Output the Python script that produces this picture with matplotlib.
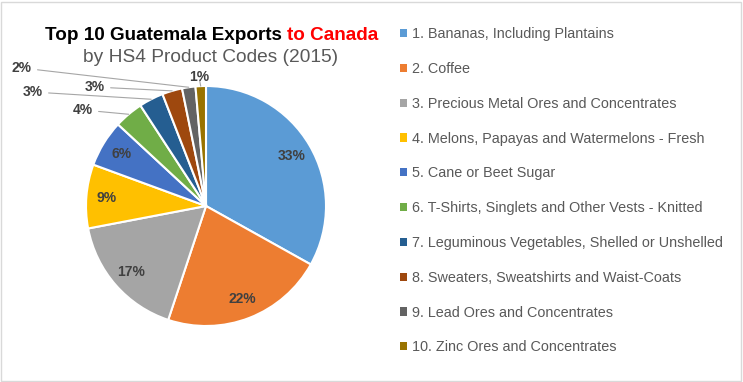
import numpy as np
import matplotlib.pyplot as plt
from matplotlib.patches import Patch, Rectangle

plt.rcParams['font.family'] = ['Liberation Sans', 'DejaVu Sans']

# data
products = ['1. Bananas, Including Plantains', '2. Coffee',
            '3. Precious Metal Ores and Concentrates',
            '4. Melons, Papayas and Watermelons - Fresh',
            '5. Cane or Beet Sugar',
            '6. T-Shirts, Singlets and Other Vests - Knitted',
            '7. Leguminous Vegetables, Shelled or Unshelled',
            '8. Sweaters, Sweatshirts and Waist-Coats',
            '9. Lead Ores and Concentrates',
            '10. Zinc Ores and Concentrates']
shares = [33.1, 22.0, 16.9, 8.6, 6.3, 3.9, 3.3, 2.7, 1.8, 1.4]
colors = ['#5B9BD5', '#ED7D31', '#A5A5A5', '#FFC000', '#4472C4',
          '#70AD47', '#255E91', '#9E480E', '#636363', '#997300']

# where the small-slice labels sit (pixel coords, y from top)
outside_pos = {5: (83, 110), 6: (33, 92), 7: (95, 87), 8: (22, 68), 9: (199, 77)}

W, H = 743, 382
fig = plt.figure(figsize=(W / 100, H / 100), dpi=100)
ax = fig.add_axes([0, 0, 1, 1])

cx, cy, r = 206, H - 206, 120
wedges, _ = ax.pie(shares, colors=colors, startangle=90, counterclock=False,
                   center=(cx, cy), radius=r, frame=True,
                   wedgeprops=dict(edgecolor='white', linewidth=1.5))
ax.set_xlim(0, W)
ax.set_ylim(0, H)
ax.axis('off')

lab_col = '#404040'
for i, w in enumerate(wedges):
    mid = np.deg2rad((w.theta1 + w.theta2) / 2)
    pct = '%d%%' % round(shares[i])
    if i not in outside_pos:
        ax.text(cx + 0.83 * r * np.cos(mid), cy + 0.83 * r * np.sin(mid), pct,
                ha='center', va='center', fontsize=10, fontweight='bold', color=lab_col)
    else:
        px, py = outside_pos[i]
        ex, ey = cx + r * np.cos(mid), cy + r * np.sin(mid)
        ax.annotate(pct, xy=(ex, ey), xytext=(px, H - py), ha='center', va='center',
                    fontsize=10, fontweight='bold', color=lab_col,
                    arrowprops=dict(arrowstyle='-', color='#A6A6A6', lw=0.8,
                                    shrinkA=2, shrinkB=0))

# title
ax.text(282, H - 35, 'Top 10 Guatemala Exports', ha='right', va='center',
        fontsize=13.6, fontweight='bold', color='black')
ax.text(287, H - 35, 'to Canada', ha='left', va='center',
        fontsize=13.6, fontweight='bold', color='#FF0000')
ax.text(211, H - 57, 'by HS4 Product Codes (2015)', ha='center', va='center',
        fontsize=13.8, color='#595959')

handles = [Patch(facecolor=c, edgecolor='none') for c in colors]
leg = ax.legend(handles, products, loc='upper left', bbox_to_anchor=(393 / W, 1 - 20 / H),
                frameon=False, fontsize=10.4, handlelength=0.5, handleheight=0.5,
                handletextpad=0.35, labelspacing=1.44, borderpad=0)
for t in leg.get_texts():
    t.set_color('#595959')

# chart border
fig.patches.append(Rectangle((1 / W, 1 / H), 1 - 3 / W, 1 - 3 / H, transform=fig.transFigure,
                             fill=False, edgecolor='#D9D9D9', linewidth=1))

fig.savefig('out.png', dpi=100)
